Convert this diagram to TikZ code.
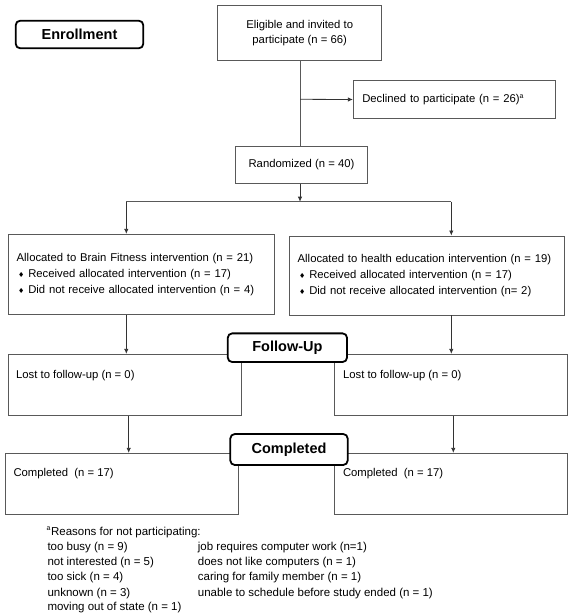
\documentclass[tikz,border=0pt]{standalone}
\usepackage{fontspec}
\setmainfont{Liberation Sans}
\newfontfamily\symfont{DejaVu Sans}
\usetikzlibrary{arrows.meta}
\newcommand{\dmd}{\makebox[11.6pt][l]{\hspace*{1.5pt}{\symfont\fontsize{7}{7}\selectfont ♦}}}
\tikzset{
  box/.style={draw=black!65, line width=0.9pt, fill=white, inner sep=0pt, font=\fontsize{11.3}{16}\selectfont},
  lab/.style={draw=black, line width=1.8pt, rounded corners=4.5pt, fill=white, inner sep=0pt, font=\bfseries\fontsize{14.5}{16}\selectfont},
  arr/.style={draw=black!80, -{Latex[length=5pt,width=4.5pt]}, line width=0.8pt},
  ln/.style={draw=black!65, line width=0.9pt},
  boxtext/.style={anchor=west, inner sep=0pt, font=\fontsize{11.3}{16}\selectfont},
  fn/.style={anchor=base west, inner sep=0pt, font=\fontsize{11.5}{15}\selectfont}
}
\begin{document}
\begin{tikzpicture}[x=1pt,y=-1pt]
\useasboundingbox (0,0) rectangle (571,616);
% boxes
\node[box, minimum width=164pt, minimum height=55pt, align=center, font=\fontsize{11.3}{15.4}\selectfont] (elig) at (299.7,33.2) {Eligible and invited to\\participate (n = 66)};
\node[box, minimum width=202pt, minimum height=37.6pt, text width=184pt, align=left] (decl) at (454.3,99.5) {Declined to participate (n = 26)\textsuperscript{\fontsize{7}{7}\selectfont a}};
\node[box, minimum width=132.4pt, minimum height=37.7pt] (rand) at (301.5,164.9) {Randomized (n = 40)};
\node[box, minimum width=266pt, minimum height=80pt, text width=249.2pt, align=left] (allocL) at (141.3,274.3) {Allocated to Brain Fitness intervention (n = 21)\\\dmd Received allocated intervention (n = 17)\\\dmd Did not receive allocated intervention (n = 4)};
\node[box, minimum width=275pt, minimum height=79pt, text width=258.2pt, align=left] (allocR) at (426.8,275.5) {Allocated to health education intervention (n = 19)\\\dmd Received allocated intervention (n = 17)\\\dmd Did not receive allocated intervention (n= 2)};
\node[box, minimum width=233.7pt, minimum height=61.4pt] (lostL) at (124.85,385) {};
\node[box, minimum width=233.4pt, minimum height=61.4pt] (lostR) at (451,385) {};
\node[box, minimum width=233.2pt, minimum height=60.7pt] (compL) at (122.1,483.65) {};
\node[box, minimum width=233.4pt, minimum height=60.7pt] (compR) at (451,483.65) {};
\node[boxtext] (lostLt) at ([xshift=8.4pt,yshift=-21.4pt]lostL.north west) {Lost to follow-up (n = 0)};
\node[boxtext] (lostRt) at ([xshift=9pt,yshift=-21.4pt]lostR.north west) {Lost to follow-up (n = 0)};
\node[boxtext] (compLt) at ([xshift=8.3pt,yshift=-20.7pt]compL.north west) {Completed\ \ (n = 17)};
\node[boxtext] (compRt) at ([xshift=9pt,yshift=-20.7pt]compR.north west) {Completed\ \ (n = 17)};
% stage labels
\node[lab, minimum width=127.6pt, minimum height=27.6pt] (enr) at (79.5,34.5) {Enrollment};
\node[lab, minimum width=119.3pt, minimum height=28.7pt] (fup) at (287.4,347.7) {Follow-Up};
\node[lab, minimum width=117.4pt, minimum height=31pt] (cmp) at (289,449.5) {Completed};
% connectors
\coordinate (br) at (300,99.3);
\coordinate (split) at (300,201.7);
\coordinate (sl) at (126.3,201.7);
\coordinate (sr) at (451.3,201.7);
\coordinate (cl) at (128.7,440);
\coordinate (cr) at (453.3,440);
\draw[ln] (elig.south -| br) -- (br |- rand.north);
\draw[arr] (br) -- (decl.west);
\draw[arr] (split |- rand.south) -- (split);
\draw[ln] (sl) -- (sr);
\draw[arr] (sl) -- (sl |- allocL.north);
\draw[arr] (sr) -- (sr |- allocR.north);
\draw[arr] (sl |- allocL.south) -- (sl |- lostL.north);
\draw[arr] (sr |- allocR.south) -- (sr |- lostR.north);
\draw[arr] (cl |- lostL.south) -- (cl |- compL.north);
\draw[arr] (cr |- lostR.south) -- (cr |- compR.north);
% footnote
\node[fn] (f0) at (46.5,535) {\textsuperscript{\fontsize{7}{7}\selectfont a}Reasons for not participating:};
\node[fn] (f1) at (47.3,550.5) {too busy (n = 9)};
\node[fn] (f2) at (47.3,565.5) {not interested (n = 5)};
\node[fn] (f3) at (47.3,580.5) {too sick (n = 4)};
\node[fn] (f4) at (47.3,596) {unknown (n = 3)};
\node[fn] (f5) at (47.3,610.5) {moving out of state (n = 1)};
\node[fn] (g1) at (197.7,550.5) {job requires computer work (n=1)};
\node[fn] (g2) at (197.7,565.5) {does not like computers (n = 1)};
\node[fn] (g3) at (197.7,580.5) {caring for family member (n = 1)};
\node[fn] (g4) at (197.7,596) {unable to schedule before study ended (n = 1)};
\end{tikzpicture}
\end{document}
